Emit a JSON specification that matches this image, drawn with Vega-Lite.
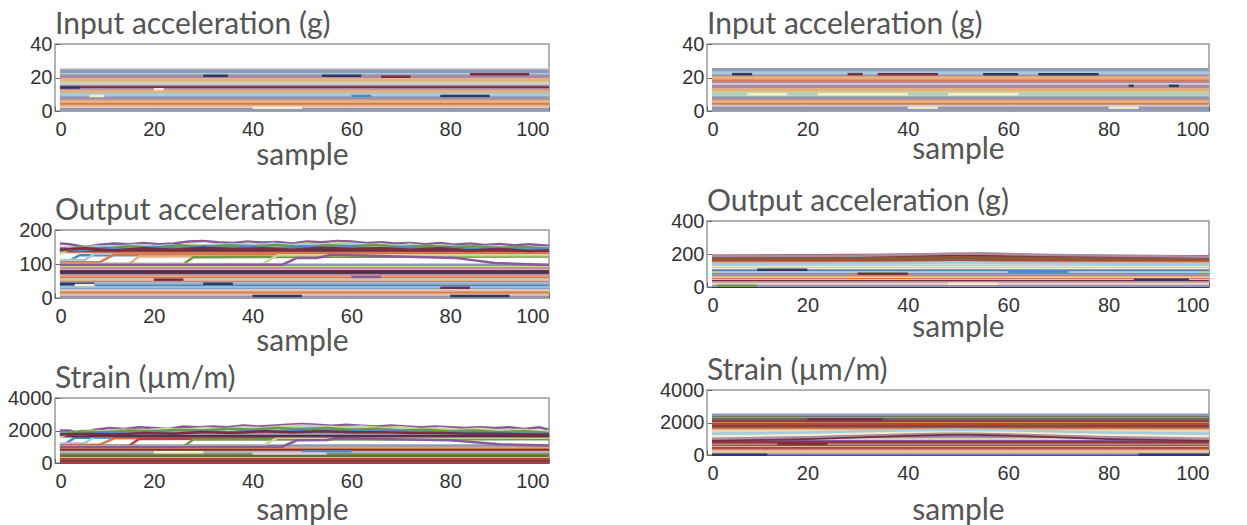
{
"$schema": "https://vega.github.io/schema/vega-lite/v6.json",
"background": "white",
"padding": {"left": 6, "top": 9, "right": 5, "bottom": 0},
"spacing": 103,
"hconcat": [
 {"bounds": "flush", "spacing": 119, "vconcat": [
  {"width": 494, "height": 67, "title": "Input acceleration (g)", "data": {"name": "p1"},
   "mark": {"type": "line"},
   "encoding": {
    "x": {"field": "x", "type": "quantitative", "scale": {"domain": [0, 100], "nice": false}, "axis": {"values": [0,20,40,60,80,100], "title": "sample", "titlePadding": 1}},
    "y": {"field": "y", "type": "quantitative", "scale": {"domain": [0, 40], "nice": false}, "axis": {"values": [0,20,40], "title": null}},
    "color": {"field": "c", "type": "nominal", "legend": null, "scale": {"domain": ["a","b","c","d","e","f","g","h","i","j","k","l","m","n","o","p"], "range": ["#E6B07E","#A98BA3","#A3CCDD","#8D9CB6","#7B2E3F","#C8D59B","#2E3A62","#D9774B","#D3CEDA","#B5473F","#6E9A45","#F4EBD0","#8A5A9A","#4A8CC2","#8C5A3C","#6D6B48"]}},
    "detail": {"field": "s"}}},
  {"bounds": "flush", "spacing": 100, "vconcat": [
   {"width": 494, "height": 68, "title": "Output acceleration (g)", "data": {"name": "p2"},
    "mark": {"type": "line"},
    "encoding": {
     "x": {"field": "x", "type": "quantitative", "scale": {"domain": [0, 100], "nice": false}, "axis": {"values": [0,20,40,60,80,100], "title": "sample", "titlePadding": 0}},
     "y": {"field": "y", "type": "quantitative", "scale": {"domain": [0, 200], "nice": false}, "axis": {"values": [0,100,200], "title": null}},
     "color": {"field": "c", "type": "nominal", "legend": null, "scale": {"domain": ["a","b","c","d","e","f","g","h","i","j","k","l","m","n","o","p"], "range": ["#E6B07E","#A98BA3","#A3CCDD","#8D9CB6","#7B2E3F","#C8D59B","#2E3A62","#D9774B","#D3CEDA","#B5473F","#6E9A45","#F4EBD0","#8A5A9A","#4A8CC2","#8C5A3C","#6D6B48"]}},
     "detail": {"field": "s"}}},
   {"width": 494, "height": 65, "title": "Strain (µm/m)", "data": {"name": "p3"},
    "mark": {"type": "line"},
    "encoding": {
     "x": {"field": "x", "type": "quantitative", "scale": {"domain": [0, 100], "nice": false}, "axis": {"values": [0,20,40,60,80,100], "title": "sample", "titlePadding": 4}},
     "y": {"field": "y", "type": "quantitative", "scale": {"domain": [0, 4000], "nice": false}, "axis": {"values": [0,2000,4000], "title": null, "format": "d"}},
     "color": {"field": "c", "type": "nominal", "legend": null, "scale": {"domain": ["a","b","c","d","e","f","g","h","i","j","k","l","m","n","o","p"], "range": ["#E6B07E","#A98BA3","#A3CCDD","#8D9CB6","#7B2E3F","#C8D59B","#2E3A62","#D9774B","#D3CEDA","#B5473F","#6E9A45","#F4EBD0","#8A5A9A","#4A8CC2","#8C5A3C","#6D6B48"]}},
     "detail": {"field": "s"}}}
  ]}
 ]},
 {"bounds": "flush", "spacing": 110, "vconcat": [
  {"width": 502, "height": 67, "title": "Input acceleration (g)", "data": {"name": "p4"},
   "mark": {"type": "line"},
   "encoding": {
    "x": {"field": "x", "type": "quantitative", "scale": {"domain": [0, 100], "nice": false}, "axis": {"values": [0,20,40,60,80,100], "title": "sample", "titlePadding": -5}},
    "y": {"field": "y", "type": "quantitative", "scale": {"domain": [0, 40], "nice": false}, "axis": {"values": [0,20,40], "title": null}},
    "color": {"field": "c", "type": "nominal", "legend": null, "scale": {"domain": ["a","b","c","d","e","f","g","h","i","j","k","l","m","n","o","p"], "range": ["#E6B07E","#A98BA3","#A3CCDD","#8D9CB6","#7B2E3F","#C8D59B","#2E3A62","#D9774B","#D3CEDA","#B5473F","#6E9A45","#F4EBD0","#8A5A9A","#4A8CC2","#8C5A3C","#6D6B48"]}},
    "detail": {"field": "s"}}},
  {"bounds": "flush", "spacing": 103, "vconcat": [
   {"width": 502, "height": 66, "title": "Output acceleration (g)", "data": {"name": "p5"},
    "mark": {"type": "line"},
    "encoding": {
     "x": {"field": "x", "type": "quantitative", "scale": {"domain": [0, 100], "nice": false}, "axis": {"values": [0,20,40,60,80,100], "title": "sample", "titlePadding": -3}},
     "y": {"field": "y", "type": "quantitative", "scale": {"domain": [0, 400], "nice": false}, "axis": {"values": [0,200,400], "title": null}},
     "color": {"field": "c", "type": "nominal", "legend": null, "scale": {"domain": ["a","b","c","d","e","f","g","h","i","j","k","l","m","n","o","p"], "range": ["#E6B07E","#A98BA3","#A3CCDD","#8D9CB6","#7B2E3F","#C8D59B","#2E3A62","#D9774B","#D3CEDA","#B5473F","#6E9A45","#F4EBD0","#8A5A9A","#4A8CC2","#8C5A3C","#6D6B48"]}},
     "detail": {"field": "s"}}},
   {"width": 502, "height": 65, "title": "Strain (µm/m)", "data": {"name": "p6"},
    "mark": {"type": "line"},
    "encoding": {
     "x": {"field": "x", "type": "quantitative", "scale": {"domain": [0, 100], "nice": false}, "axis": {"values": [0,20,40,60,80,100], "title": "sample", "titlePadding": 12}},
     "y": {"field": "y", "type": "quantitative", "scale": {"domain": [0, 4000], "nice": false}, "axis": {"values": [0,2000,4000], "title": null, "format": "d"}},
     "color": {"field": "c", "type": "nominal", "legend": null, "scale": {"domain": ["a","b","c","d","e","f","g","h","i","j","k","l","m","n","o","p"], "range": ["#E6B07E","#A98BA3","#A3CCDD","#8D9CB6","#7B2E3F","#C8D59B","#2E3A62","#D9774B","#D3CEDA","#B5473F","#6E9A45","#F4EBD0","#8A5A9A","#4A8CC2","#8C5A3C","#6D6B48"]}},
     "detail": {"field": "s"}}}
  ]}
 ]}
],
"datasets": {
"p1": [
{"s":1,"x":1,"y":25,"c":"i"},{"s":1,"x":100,"y":25,"c":"i"},
{"s":2,"x":1,"y":24,"c":"d"},{"s":2,"x":100,"y":24,"c":"d"},
{"s":3,"x":1,"y":23,"c":"d"},{"s":3,"x":100,"y":23,"c":"d"},
{"s":4,"x":1,"y":22,"c":"c"},{"s":4,"x":100,"y":22,"c":"c"},
{"s":5,"x":1,"y":21,"c":"b"},{"s":5,"x":100,"y":21,"c":"b"},
{"s":6,"x":1,"y":20,"c":"b"},{"s":6,"x":100,"y":20,"c":"b"},
{"s":7,"x":1,"y":19,"c":"a"},{"s":7,"x":100,"y":19,"c":"a"},
{"s":8,"x":1,"y":18,"c":"a"},{"s":8,"x":100,"y":18,"c":"a"},
{"s":9,"x":1,"y":17,"c":"f"},{"s":9,"x":100,"y":17,"c":"f"},
{"s":10,"x":1,"y":16,"c":"i"},{"s":10,"x":100,"y":16,"c":"i"},
{"s":11,"x":1,"y":15,"c":"b"},{"s":11,"x":100,"y":15,"c":"b"},
{"s":12,"x":1,"y":14,"c":"e"},{"s":12,"x":100,"y":14,"c":"e"},
{"s":13,"x":1,"y":13,"c":"b"},{"s":13,"x":100,"y":13,"c":"b"},
{"s":14,"x":1,"y":12,"c":"a"},{"s":14,"x":100,"y":12,"c":"a"},
{"s":15,"x":1,"y":11,"c":"a"},{"s":15,"x":100,"y":11,"c":"a"},
{"s":16,"x":1,"y":10,"c":"c"},{"s":16,"x":100,"y":10,"c":"c"},
{"s":17,"x":1,"y":9,"c":"c"},{"s":17,"x":100,"y":9,"c":"c"},
{"s":18,"x":1,"y":8,"c":"d"},{"s":18,"x":100,"y":8,"c":"d"},
{"s":19,"x":1,"y":7,"c":"b"},{"s":19,"x":100,"y":7,"c":"b"},
{"s":20,"x":1,"y":6,"c":"a"},{"s":20,"x":100,"y":6,"c":"a"},
{"s":21,"x":1,"y":5,"c":"a"},{"s":21,"x":100,"y":5,"c":"a"},
{"s":22,"x":1,"y":4,"c":"h"},{"s":22,"x":100,"y":4,"c":"h"},
{"s":23,"x":1,"y":3,"c":"a"},{"s":23,"x":100,"y":3,"c":"a"},
{"s":24,"x":1,"y":2,"c":"i"},{"s":24,"x":100,"y":2,"c":"i"},
{"s":25,"x":1,"y":1,"c":"b"},{"s":25,"x":100,"y":1,"c":"b"},
{"s":26,"x":1,"y":0.4,"c":"d"},{"s":26,"x":100,"y":0.4,"c":"d"},
{"s":27,"x":30,"y":21,"c":"g"},{"s":27,"x":35,"y":21,"c":"g"},
{"s":28,"x":54,"y":21,"c":"g"},{"s":28,"x":62,"y":21,"c":"g"},
{"s":29,"x":66,"y":20.5,"c":"e"},{"s":29,"x":72,"y":20.5,"c":"e"},
{"s":30,"x":1,"y":14,"c":"g"},{"s":30,"x":5,"y":14,"c":"g"},
{"s":31,"x":60,"y":9,"c":"n"},{"s":31,"x":64,"y":9,"c":"n"},
{"s":32,"x":78,"y":9,"c":"g"},{"s":32,"x":88,"y":9,"c":"g"},
{"s":33,"x":84,"y":22,"c":"e"},{"s":33,"x":96,"y":22,"c":"e"},
{"s":34,"x":7,"y":9,"c":"l"},{"s":34,"x":10,"y":9,"c":"l"},
{"s":35,"x":20,"y":13,"c":"l"},{"s":35,"x":22,"y":13,"c":"l"},
{"s":36,"x":40,"y":2,"c":"l"},{"s":36,"x":50,"y":2,"c":"l"}
],
"p4": [
{"s":1,"x":1,"y":25,"c":"d"},{"s":1,"x":100,"y":25,"c":"d"},
{"s":2,"x":1,"y":24,"c":"d"},{"s":2,"x":100,"y":24,"c":"d"},
{"s":3,"x":1,"y":23,"c":"c"},{"s":3,"x":100,"y":23,"c":"c"},
{"s":4,"x":1,"y":22,"c":"c"},{"s":4,"x":100,"y":22,"c":"c"},
{"s":5,"x":1,"y":21,"c":"b"},{"s":5,"x":100,"y":21,"c":"b"},
{"s":6,"x":1,"y":20,"c":"a"},{"s":6,"x":100,"y":20,"c":"a"},
{"s":7,"x":1,"y":19,"c":"a"},{"s":7,"x":100,"y":19,"c":"a"},
{"s":8,"x":1,"y":18,"c":"h"},{"s":8,"x":100,"y":18,"c":"h"},
{"s":9,"x":1,"y":17,"c":"b"},{"s":9,"x":100,"y":17,"c":"b"},
{"s":10,"x":1,"y":16,"c":"i"},{"s":10,"x":100,"y":16,"c":"i"},
{"s":11,"x":1,"y":15,"c":"b"},{"s":11,"x":100,"y":15,"c":"b"},
{"s":12,"x":1,"y":14,"c":"b"},{"s":12,"x":100,"y":14,"c":"b"},
{"s":13,"x":1,"y":13,"c":"a"},{"s":13,"x":100,"y":13,"c":"a"},
{"s":14,"x":1,"y":12,"c":"a"},{"s":14,"x":100,"y":12,"c":"a"},
{"s":15,"x":1,"y":11,"c":"f"},{"s":15,"x":100,"y":11,"c":"f"},
{"s":16,"x":1,"y":10,"c":"c"},{"s":16,"x":100,"y":10,"c":"c"},
{"s":17,"x":1,"y":9,"c":"f"},{"s":17,"x":100,"y":9,"c":"f"},
{"s":18,"x":1,"y":8,"c":"d"},{"s":18,"x":100,"y":8,"c":"d"},
{"s":19,"x":1,"y":7,"c":"b"},{"s":19,"x":100,"y":7,"c":"b"},
{"s":20,"x":1,"y":6,"c":"a"},{"s":20,"x":100,"y":6,"c":"a"},
{"s":21,"x":1,"y":5,"c":"a"},{"s":21,"x":100,"y":5,"c":"a"},
{"s":22,"x":1,"y":4,"c":"h"},{"s":22,"x":100,"y":4,"c":"h"},
{"s":23,"x":1,"y":3,"c":"i"},{"s":23,"x":100,"y":3,"c":"i"},
{"s":24,"x":1,"y":2,"c":"d"},{"s":24,"x":100,"y":2,"c":"d"},
{"s":25,"x":1,"y":1,"c":"b"},{"s":25,"x":100,"y":1,"c":"b"},
{"s":26,"x":1,"y":0.4,"c":"d"},{"s":26,"x":100,"y":0.4,"c":"d"},
{"s":27,"x":5,"y":22,"c":"g"},{"s":27,"x":9,"y":22,"c":"g"},
{"s":28,"x":28,"y":22,"c":"e"},{"s":28,"x":31,"y":22,"c":"e"},
{"s":29,"x":34,"y":22,"c":"e"},{"s":29,"x":46,"y":22,"c":"e"},
{"s":30,"x":55,"y":22,"c":"g"},{"s":30,"x":62,"y":22,"c":"g"},
{"s":31,"x":66,"y":22,"c":"g"},{"s":31,"x":78,"y":22,"c":"g"},
{"s":32,"x":84,"y":15,"c":"g"},{"s":32,"x":85,"y":15,"c":"g"},
{"s":33,"x":92,"y":15,"c":"g"},{"s":33,"x":94,"y":15,"c":"g"},
{"s":34,"x":8,"y":10,"c":"l"},{"s":34,"x":16,"y":10,"c":"l"},
{"s":35,"x":22,"y":10,"c":"l"},{"s":35,"x":40,"y":10,"c":"l"},
{"s":36,"x":48,"y":10,"c":"l"},{"s":36,"x":62,"y":10,"c":"l"},
{"s":37,"x":40,"y":2,"c":"l"},{"s":37,"x":46,"y":2,"c":"l"},
{"s":38,"x":80,"y":2,"c":"l"},{"s":38,"x":86,"y":2,"c":"l"}
],
"p2": [
{"s":1,"x":1,"y":2,"c":"d"},{"s":1,"x":100,"y":2,"c":"d"},
{"s":2,"x":1,"y":6,"c":"b"},{"s":2,"x":100,"y":6,"c":"b"},
{"s":3,"x":1,"y":10,"c":"i"},{"s":3,"x":100,"y":10,"c":"i"},
{"s":4,"x":1,"y":14,"c":"a"},{"s":4,"x":100,"y":14,"c":"a"},
{"s":5,"x":1,"y":18,"c":"h"},{"s":5,"x":100,"y":18,"c":"h"},
{"s":6,"x":1,"y":22,"c":"a"},{"s":6,"x":100,"y":22,"c":"a"},
{"s":7,"x":1,"y":26,"c":"i"},{"s":7,"x":100,"y":26,"c":"i"},
{"s":8,"x":1,"y":30,"c":"d"},{"s":8,"x":100,"y":30,"c":"d"},
{"s":9,"x":1,"y":34,"c":"c"},{"s":9,"x":100,"y":34,"c":"c"},
{"s":10,"x":1,"y":38,"c":"n"},{"s":10,"x":100,"y":38,"c":"n"},
{"s":11,"x":1,"y":42,"c":"d"},{"s":11,"x":100,"y":42,"c":"d"},
{"s":12,"x":1,"y":46,"c":"c"},{"s":12,"x":100,"y":46,"c":"c"},
{"s":13,"x":1,"y":50,"c":"b"},{"s":13,"x":100,"y":50,"c":"b"},
{"s":14,"x":1,"y":54,"c":"a"},{"s":14,"x":100,"y":54,"c":"a"},
{"s":15,"x":1,"y":58,"c":"i"},{"s":15,"x":100,"y":58,"c":"i"},
{"s":16,"x":1,"y":62,"c":"h"},{"s":16,"x":100,"y":62,"c":"h"},
{"s":17,"x":1,"y":66,"c":"a"},{"s":17,"x":100,"y":66,"c":"a"},
{"s":18,"x":1,"y":70,"c":"b"},{"s":18,"x":100,"y":70,"c":"b"},
{"s":19,"x":1,"y":74,"c":"e"},{"s":19,"x":100,"y":74,"c":"e"},
{"s":20,"x":1,"y":78,"c":"g"},{"s":20,"x":100,"y":78,"c":"g"},
{"s":21,"x":1,"y":82,"c":"e"},{"s":21,"x":100,"y":82,"c":"e"},
{"s":22,"x":1,"y":86,"c":"a"},{"s":22,"x":100,"y":86,"c":"a"},
{"s":23,"x":1,"y":90,"c":"b"},{"s":23,"x":100,"y":90,"c":"b"},
{"s":24,"x":1,"y":94,"c":"f"},{"s":24,"x":100,"y":94,"c":"f"},
{"s":25,"x":1,"y":98,"c":"d"},{"s":25,"x":100,"y":98,"c":"d"},
{"s":26,"x":1,"y":42,"c":"g"},{"s":26,"x":8,"y":42,"c":"g"},
{"s":27,"x":30,"y":42,"c":"g"},{"s":27,"x":36,"y":42,"c":"g"},
{"s":28,"x":20,"y":54,"c":"e"},{"s":28,"x":26,"y":54,"c":"e"},
{"s":29,"x":78,"y":30,"c":"e"},{"s":29,"x":84,"y":30,"c":"e"},
{"s":30,"x":60,"y":62,"c":"m"},{"s":30,"x":66,"y":62,"c":"m"},
{"s":31,"x":40,"y":6,"c":"g"},{"s":31,"x":50,"y":6,"c":"g"},
{"s":32,"x":80,"y":6,"c":"g"},{"s":32,"x":92,"y":6,"c":"g"},
{"s":33,"x":4,"y":38,"c":"l"},{"s":33,"x":8,"y":38,"c":"l"},
{"s":40,"x":1,"y":108,"c":"n"},{"s":40,"x":3,"y":110,"c":"n"},{"s":40,"x":5,"y":126,"c":"n"},{"s":40,"x":100,"y":128,"c":"n"},
{"s":41,"x":1,"y":112,"c":"c"},{"s":41,"x":6,"y":112,"c":"c"},{"s":41,"x":8,"y":130,"c":"c"},{"s":41,"x":100,"y":132,"c":"c"},
{"s":42,"x":1,"y":105,"c":"h"},{"s":42,"x":9,"y":105,"c":"h"},{"s":42,"x":12,"y":128,"c":"h"},{"s":42,"x":100,"y":130,"c":"h"},
{"s":43,"x":1,"y":100,"c":"a"},{"s":43,"x":15,"y":100,"c":"a"},{"s":43,"x":17,"y":122,"c":"a"},{"s":43,"x":100,"y":124,"c":"a"},
{"s":44,"x":1,"y":100,"c":"k"},{"s":44,"x":26,"y":100,"c":"k"},{"s":44,"x":28,"y":120,"c":"k"},{"s":44,"x":100,"y":122,"c":"k"},
{"s":45,"x":1,"y":100,"c":"f"},{"s":45,"x":42,"y":100,"c":"f"},{"s":45,"x":45,"y":126,"c":"f"},{"s":45,"x":100,"y":126,"c":"f"},
{"s":46,"x":1,"y":98,"c":"m"},{"s":46,"x":46,"y":98,"c":"m"},{"s":46,"x":49,"y":118,"c":"m"},{"s":46,"x":53,"y":118,"c":"m"},{"s":46,"x":56,"y":127,"c":"m"},{"s":46,"x":81,"y":118,"c":"m"},{"s":46,"x":89,"y":103,"c":"m"},{"s":46,"x":100,"y":97,"c":"m"},
{"s":48,"x":1,"y":135,"c":"h"},{"s":48,"x":100,"y":135,"c":"h"},
{"s":49,"x":1,"y":140,"c":"e"},{"s":49,"x":100,"y":140,"c":"e"},
{"s":50,"x":1,"y":144,"c":"g"},{"s":50,"x":100,"y":145,"c":"g"},
{"s":51,"x":1,"y":148,"c":"b"},{"s":51,"x":100,"y":148,"c":"b"},
{"s":60,"x":1,"y":160,"c":"m"},{"s":60,"x":3,"y":158,"c":"m"},{"s":60,"x":6,"y":150,"c":"m"},{"s":60,"x":9,"y":157,"c":"m"},{"s":60,"x":12,"y":160,"c":"m"},{"s":60,"x":15,"y":158,"c":"m"},{"s":60,"x":18,"y":162,"c":"m"},{"s":60,"x":21,"y":158,"c":"m"},{"s":60,"x":24,"y":160,"c":"m"},{"s":60,"x":27,"y":166,"c":"m"},{"s":60,"x":30,"y":168,"c":"m"},{"s":60,"x":33,"y":164,"c":"m"},{"s":60,"x":36,"y":162,"c":"m"},{"s":60,"x":39,"y":166,"c":"m"},{"s":60,"x":42,"y":163,"c":"m"},{"s":60,"x":45,"y":165,"c":"m"},{"s":60,"x":48,"y":160,"c":"m"},{"s":60,"x":51,"y":166,"c":"m"},{"s":60,"x":54,"y":164,"c":"m"},{"s":60,"x":57,"y":168,"c":"m"},{"s":60,"x":60,"y":166,"c":"m"},{"s":60,"x":63,"y":162,"c":"m"},{"s":60,"x":66,"y":164,"c":"m"},{"s":60,"x":69,"y":160,"c":"m"},{"s":60,"x":72,"y":162,"c":"m"},{"s":60,"x":75,"y":158,"c":"m"},{"s":60,"x":78,"y":162,"c":"m"},{"s":60,"x":81,"y":157,"c":"m"},{"s":60,"x":84,"y":160,"c":"m"},{"s":60,"x":87,"y":156,"c":"m"},{"s":60,"x":90,"y":159,"c":"m"},{"s":60,"x":93,"y":155,"c":"m"},{"s":60,"x":96,"y":158,"c":"m"},{"s":60,"x":100,"y":154,"c":"m"},
{"s":61,"x":1,"y":130,"c":"f"},{"s":61,"x":3,"y":145,"c":"f"},{"s":61,"x":6,"y":150,"c":"f"},{"s":61,"x":9,"y":148,"c":"f"},{"s":61,"x":12,"y":152,"c":"f"},{"s":61,"x":15,"y":150,"c":"f"},{"s":61,"x":18,"y":155,"c":"f"},{"s":61,"x":21,"y":152,"c":"f"},{"s":61,"x":24,"y":150,"c":"f"},{"s":61,"x":27,"y":158,"c":"f"},{"s":61,"x":30,"y":155,"c":"f"},{"s":61,"x":33,"y":158,"c":"f"},{"s":61,"x":36,"y":154,"c":"f"},{"s":61,"x":39,"y":160,"c":"f"},{"s":61,"x":42,"y":156,"c":"f"},{"s":61,"x":45,"y":158,"c":"f"},{"s":61,"x":48,"y":155,"c":"f"},{"s":61,"x":51,"y":160,"c":"f"},{"s":61,"x":54,"y":156,"c":"f"},{"s":61,"x":57,"y":162,"c":"f"},{"s":61,"x":60,"y":158,"c":"f"},{"s":61,"x":63,"y":155,"c":"f"},{"s":61,"x":66,"y":158,"c":"f"},{"s":61,"x":69,"y":154,"c":"f"},{"s":61,"x":72,"y":157,"c":"f"},{"s":61,"x":75,"y":152,"c":"f"},{"s":61,"x":78,"y":155,"c":"f"},{"s":61,"x":81,"y":150,"c":"f"},{"s":61,"x":84,"y":154,"c":"f"},{"s":61,"x":87,"y":150,"c":"f"},{"s":61,"x":90,"y":152,"c":"f"},{"s":61,"x":93,"y":148,"c":"f"},{"s":61,"x":96,"y":150,"c":"f"},{"s":61,"x":100,"y":146,"c":"f"},
{"s":62,"x":1,"y":140,"c":"c"},{"s":62,"x":4,"y":148,"c":"c"},{"s":62,"x":8,"y":152,"c":"c"},{"s":62,"x":12,"y":150,"c":"c"},{"s":62,"x":16,"y":156,"c":"c"},{"s":62,"x":20,"y":152,"c":"c"},{"s":62,"x":24,"y":155,"c":"c"},{"s":62,"x":28,"y":150,"c":"c"},{"s":62,"x":32,"y":156,"c":"c"},{"s":62,"x":36,"y":158,"c":"c"},{"s":62,"x":40,"y":154,"c":"c"},{"s":62,"x":44,"y":160,"c":"c"},{"s":62,"x":48,"y":156,"c":"c"},{"s":62,"x":52,"y":158,"c":"c"},{"s":62,"x":56,"y":155,"c":"c"},{"s":62,"x":60,"y":160,"c":"c"},{"s":62,"x":64,"y":156,"c":"c"},{"s":62,"x":68,"y":152,"c":"c"},{"s":62,"x":72,"y":156,"c":"c"},{"s":62,"x":76,"y":150,"c":"c"},{"s":62,"x":80,"y":154,"c":"c"},{"s":62,"x":84,"y":148,"c":"c"},{"s":62,"x":88,"y":152,"c":"c"},{"s":62,"x":92,"y":148,"c":"c"},{"s":62,"x":96,"y":150,"c":"c"},{"s":62,"x":100,"y":148,"c":"c"},
{"s":63,"x":1,"y":138,"c":"k"},{"s":63,"x":5,"y":150,"c":"k"},{"s":63,"x":10,"y":145,"c":"k"},{"s":63,"x":15,"y":152,"c":"k"},{"s":63,"x":20,"y":148,"c":"k"},{"s":63,"x":25,"y":155,"c":"k"},{"s":63,"x":30,"y":150,"c":"k"},{"s":63,"x":35,"y":155,"c":"k"},{"s":63,"x":40,"y":152,"c":"k"},{"s":63,"x":45,"y":156,"c":"k"},{"s":63,"x":50,"y":150,"c":"k"},{"s":63,"x":55,"y":155,"c":"k"},{"s":63,"x":60,"y":152,"c":"k"},{"s":63,"x":65,"y":156,"c":"k"},{"s":63,"x":70,"y":150,"c":"k"},{"s":63,"x":75,"y":154,"c":"k"},{"s":63,"x":80,"y":150,"c":"k"},{"s":63,"x":85,"y":152,"c":"k"},{"s":63,"x":90,"y":148,"c":"k"},{"s":63,"x":95,"y":150,"c":"k"},{"s":63,"x":100,"y":145,"c":"k"},
{"s":64,"x":1,"y":145,"c":"n"},{"s":64,"x":5,"y":140,"c":"n"},{"s":64,"x":10,"y":148,"c":"n"},{"s":64,"x":15,"y":144,"c":"n"},{"s":64,"x":20,"y":150,"c":"n"},{"s":64,"x":25,"y":146,"c":"n"},{"s":64,"x":30,"y":152,"c":"n"},{"s":64,"x":35,"y":148,"c":"n"},{"s":64,"x":40,"y":150,"c":"n"},{"s":64,"x":45,"y":146,"c":"n"},{"s":64,"x":50,"y":152,"c":"n"},{"s":64,"x":55,"y":148,"c":"n"},{"s":64,"x":60,"y":150,"c":"n"},{"s":64,"x":65,"y":146,"c":"n"},{"s":64,"x":70,"y":150,"c":"n"},{"s":64,"x":75,"y":146,"c":"n"},{"s":64,"x":80,"y":148,"c":"n"},{"s":64,"x":85,"y":144,"c":"n"},{"s":64,"x":90,"y":146,"c":"n"},{"s":64,"x":95,"y":142,"c":"n"},{"s":64,"x":100,"y":144,"c":"n"},
{"s":65,"x":1,"y":142,"c":"e"},{"s":65,"x":6,"y":146,"c":"e"},{"s":65,"x":12,"y":140,"c":"e"},{"s":65,"x":18,"y":146,"c":"e"},{"s":65,"x":24,"y":142,"c":"e"},{"s":65,"x":30,"y":148,"c":"e"},{"s":65,"x":36,"y":144,"c":"e"},{"s":65,"x":42,"y":146,"c":"e"},{"s":65,"x":48,"y":142,"c":"e"},{"s":65,"x":54,"y":148,"c":"e"},{"s":65,"x":60,"y":144,"c":"e"},{"s":65,"x":66,"y":146,"c":"e"},{"s":65,"x":72,"y":142,"c":"e"},{"s":65,"x":78,"y":146,"c":"e"},{"s":65,"x":84,"y":140,"c":"e"},{"s":65,"x":90,"y":144,"c":"e"},{"s":65,"x":96,"y":138,"c":"e"},{"s":65,"x":100,"y":140,"c":"e"}
],
"p3": [
{"s":1,"x":1,"y":30,"c":"e"},{"s":1,"x":100,"y":30,"c":"e"},
{"s":2,"x":1,"y":100,"c":"j"},{"s":2,"x":100,"y":100,"c":"j"},
{"s":3,"x":1,"y":170,"c":"e"},{"s":3,"x":100,"y":170,"c":"e"},
{"s":4,"x":1,"y":240,"c":"o"},{"s":4,"x":100,"y":240,"c":"o"},
{"s":5,"x":1,"y":310,"c":"j"},{"s":5,"x":100,"y":310,"c":"j"},
{"s":6,"x":1,"y":380,"c":"a"},{"s":6,"x":100,"y":380,"c":"a"},
{"s":7,"x":1,"y":450,"c":"p"},{"s":7,"x":100,"y":450,"c":"p"},
{"s":8,"x":1,"y":520,"c":"o"},{"s":8,"x":100,"y":520,"c":"o"},
{"s":9,"x":1,"y":590,"c":"k"},{"s":9,"x":100,"y":590,"c":"k"},
{"s":10,"x":1,"y":660,"c":"d"},{"s":10,"x":100,"y":660,"c":"d"},
{"s":11,"x":1,"y":730,"c":"i"},{"s":11,"x":100,"y":730,"c":"i"},
{"s":12,"x":1,"y":800,"c":"o"},{"s":12,"x":100,"y":800,"c":"o"},
{"s":13,"x":1,"y":870,"c":"e"},{"s":13,"x":100,"y":870,"c":"e"},
{"s":14,"x":1,"y":940,"c":"h"},{"s":14,"x":100,"y":940,"c":"h"},
{"s":15,"x":1,"y":1010,"c":"a"},{"s":15,"x":100,"y":1010,"c":"a"},
{"s":16,"x":1,"y":1080,"c":"d"},{"s":16,"x":100,"y":1080,"c":"d"},
{"s":17,"x":20,"y":660,"c":"l"},{"s":17,"x":30,"y":660,"c":"l"},
{"s":18,"x":50,"y":730,"c":"n"},{"s":18,"x":60,"y":730,"c":"n"},
{"s":19,"x":40,"y":590,"c":"i"},{"s":19,"x":55,"y":590,"c":"i"},
{"s":40,"x":1,"y":1150,"c":"n"},{"s":40,"x":2,"y":1160,"c":"n"},{"s":40,"x":4,"y":1550,"c":"n"},{"s":40,"x":100,"y":1560,"c":"n"},
{"s":41,"x":1,"y":1200,"c":"c"},{"s":41,"x":6,"y":1220,"c":"c"},{"s":41,"x":8,"y":1600,"c":"c"},{"s":41,"x":100,"y":1620,"c":"c"},
{"s":42,"x":1,"y":1100,"c":"h"},{"s":42,"x":9,"y":1120,"c":"h"},{"s":42,"x":12,"y":1520,"c":"h"},{"s":42,"x":100,"y":1540,"c":"h"},
{"s":43,"x":1,"y":1050,"c":"j"},{"s":43,"x":15,"y":1060,"c":"j"},{"s":43,"x":17,"y":1480,"c":"j"},{"s":43,"x":100,"y":1500,"c":"j"},
{"s":44,"x":1,"y":1000,"c":"k"},{"s":44,"x":26,"y":1020,"c":"k"},{"s":44,"x":28,"y":1450,"c":"k"},{"s":44,"x":100,"y":1460,"c":"k"},
{"s":45,"x":1,"y":1020,"c":"f"},{"s":45,"x":42,"y":1040,"c":"f"},{"s":45,"x":45,"y":1550,"c":"f"},{"s":45,"x":100,"y":1560,"c":"f"},
{"s":46,"x":1,"y":980,"c":"m"},{"s":46,"x":46,"y":1000,"c":"m"},{"s":46,"x":49,"y":1400,"c":"m"},{"s":46,"x":55,"y":1420,"c":"m"},{"s":46,"x":57,"y":1520,"c":"m"},{"s":46,"x":80,"y":1400,"c":"m"},{"s":46,"x":90,"y":1150,"c":"m"},{"s":46,"x":100,"y":1080,"c":"m"},
{"s":50,"x":1,"y":1650,"c":"e"},{"s":50,"x":100,"y":1650,"c":"e"},
{"s":51,"x":1,"y":1720,"c":"g"},{"s":51,"x":100,"y":1720,"c":"g"},
{"s":52,"x":1,"y":1800,"c":"b"},{"s":52,"x":100,"y":1800,"c":"b"},
{"s":53,"x":1,"y":1870,"c":"d"},{"s":53,"x":100,"y":1870,"c":"d"},
{"s":60,"x":1,"y":2000,"c":"m"},{"s":60,"x":3,"y":2000,"c":"m"},{"s":60,"x":5,"y":1800,"c":"m"},{"s":60,"x":8,"y":2050,"c":"m"},{"s":60,"x":11,"y":2150,"c":"m"},{"s":60,"x":14,"y":2100,"c":"m"},{"s":60,"x":17,"y":2200,"c":"m"},{"s":60,"x":20,"y":2150,"c":"m"},{"s":60,"x":23,"y":2100,"c":"m"},{"s":60,"x":26,"y":2250,"c":"m"},{"s":60,"x":29,"y":2200,"c":"m"},{"s":60,"x":32,"y":2250,"c":"m"},{"s":60,"x":35,"y":2200,"c":"m"},{"s":60,"x":38,"y":2300,"c":"m"},{"s":60,"x":41,"y":2250,"c":"m"},{"s":60,"x":44,"y":2300,"c":"m"},{"s":60,"x":47,"y":2350,"c":"m"},{"s":60,"x":50,"y":2400,"c":"m"},{"s":60,"x":53,"y":2350,"c":"m"},{"s":60,"x":56,"y":2300,"c":"m"},{"s":60,"x":59,"y":2350,"c":"m"},{"s":60,"x":62,"y":2300,"c":"m"},{"s":60,"x":65,"y":2250,"c":"m"},{"s":60,"x":68,"y":2300,"c":"m"},{"s":60,"x":71,"y":2250,"c":"m"},{"s":60,"x":74,"y":2200,"c":"m"},{"s":60,"x":77,"y":2250,"c":"m"},{"s":60,"x":80,"y":2200,"c":"m"},{"s":60,"x":83,"y":2150,"c":"m"},{"s":60,"x":86,"y":2200,"c":"m"},{"s":60,"x":89,"y":2150,"c":"m"},{"s":60,"x":92,"y":2200,"c":"m"},{"s":60,"x":95,"y":2100,"c":"m"},{"s":60,"x":98,"y":2200,"c":"m"},{"s":60,"x":100,"y":2050,"c":"m"},
{"s":61,"x":1,"y":1600,"c":"f"},{"s":61,"x":3,"y":1850,"c":"f"},{"s":61,"x":6,"y":2000,"c":"f"},{"s":61,"x":10,"y":1950,"c":"f"},{"s":61,"x":14,"y":2050,"c":"f"},{"s":61,"x":18,"y":2000,"c":"f"},{"s":61,"x":22,"y":2100,"c":"f"},{"s":61,"x":26,"y":2050,"c":"f"},{"s":61,"x":30,"y":2150,"c":"f"},{"s":61,"x":34,"y":2100,"c":"f"},{"s":61,"x":38,"y":2200,"c":"f"},{"s":61,"x":42,"y":2150,"c":"f"},{"s":61,"x":46,"y":2250,"c":"f"},{"s":61,"x":50,"y":2300,"c":"f"},{"s":61,"x":54,"y":2250,"c":"f"},{"s":61,"x":58,"y":2200,"c":"f"},{"s":61,"x":62,"y":2250,"c":"f"},{"s":61,"x":66,"y":2150,"c":"f"},{"s":61,"x":70,"y":2200,"c":"f"},{"s":61,"x":74,"y":2100,"c":"f"},{"s":61,"x":78,"y":2150,"c":"f"},{"s":61,"x":82,"y":2050,"c":"f"},{"s":61,"x":86,"y":2100,"c":"f"},{"s":61,"x":90,"y":2000,"c":"f"},{"s":61,"x":94,"y":2050,"c":"f"},{"s":61,"x":100,"y":1950,"c":"f"},
{"s":62,"x":1,"y":1700,"c":"c"},{"s":62,"x":4,"y":1900,"c":"c"},{"s":62,"x":8,"y":1850,"c":"c"},{"s":62,"x":12,"y":1950,"c":"c"},{"s":62,"x":16,"y":1900,"c":"c"},{"s":62,"x":20,"y":2000,"c":"c"},{"s":62,"x":24,"y":1950,"c":"c"},{"s":62,"x":28,"y":2050,"c":"c"},{"s":62,"x":32,"y":2000,"c":"c"},{"s":62,"x":36,"y":2100,"c":"c"},{"s":62,"x":40,"y":2050,"c":"c"},{"s":62,"x":44,"y":2150,"c":"c"},{"s":62,"x":48,"y":2100,"c":"c"},{"s":62,"x":52,"y":2200,"c":"c"},{"s":62,"x":56,"y":2100,"c":"c"},{"s":62,"x":60,"y":2150,"c":"c"},{"s":62,"x":64,"y":2050,"c":"c"},{"s":62,"x":68,"y":2100,"c":"c"},{"s":62,"x":72,"y":2000,"c":"c"},{"s":62,"x":76,"y":2050,"c":"c"},{"s":62,"x":80,"y":1950,"c":"c"},{"s":62,"x":84,"y":2000,"c":"c"},{"s":62,"x":88,"y":1900,"c":"c"},{"s":62,"x":92,"y":1950,"c":"c"},{"s":62,"x":96,"y":1900,"c":"c"},{"s":62,"x":100,"y":1850,"c":"c"},
{"s":63,"x":1,"y":1750,"c":"k"},{"s":63,"x":5,"y":1950,"c":"k"},{"s":63,"x":10,"y":1900,"c":"k"},{"s":63,"x":15,"y":2000,"c":"k"},{"s":63,"x":20,"y":1950,"c":"k"},{"s":63,"x":25,"y":2050,"c":"k"},{"s":63,"x":30,"y":2000,"c":"k"},{"s":63,"x":35,"y":2100,"c":"k"},{"s":63,"x":40,"y":2050,"c":"k"},{"s":63,"x":45,"y":2150,"c":"k"},{"s":63,"x":50,"y":2100,"c":"k"},{"s":63,"x":55,"y":2150,"c":"k"},{"s":63,"x":60,"y":2050,"c":"k"},{"s":63,"x":65,"y":2100,"c":"k"},{"s":63,"x":70,"y":2000,"c":"k"},{"s":63,"x":75,"y":2050,"c":"k"},{"s":63,"x":80,"y":1950,"c":"k"},{"s":63,"x":85,"y":2000,"c":"k"},{"s":63,"x":90,"y":1900,"c":"k"},{"s":63,"x":95,"y":1950,"c":"k"},{"s":63,"x":100,"y":1850,"c":"k"},
{"s":64,"x":1,"y":1800,"c":"n"},{"s":64,"x":5,"y":1750,"c":"n"},{"s":64,"x":10,"y":1850,"c":"n"},{"s":64,"x":15,"y":1800,"c":"n"},{"s":64,"x":20,"y":1900,"c":"n"},{"s":64,"x":25,"y":1850,"c":"n"},{"s":64,"x":30,"y":1950,"c":"n"},{"s":64,"x":35,"y":1900,"c":"n"},{"s":64,"x":40,"y":2000,"c":"n"},{"s":64,"x":45,"y":1950,"c":"n"},{"s":64,"x":50,"y":2050,"c":"n"},{"s":64,"x":55,"y":2000,"c":"n"},{"s":64,"x":60,"y":2000,"c":"n"},{"s":64,"x":65,"y":1950,"c":"n"},{"s":64,"x":70,"y":1950,"c":"n"},{"s":64,"x":75,"y":1900,"c":"n"},{"s":64,"x":80,"y":1900,"c":"n"},{"s":64,"x":85,"y":1850,"c":"n"},{"s":64,"x":90,"y":1850,"c":"n"},{"s":64,"x":95,"y":1800,"c":"n"},{"s":64,"x":100,"y":1800,"c":"n"},
{"s":65,"x":1,"y":1750,"c":"e"},{"s":65,"x":6,"y":1800,"c":"e"},{"s":65,"x":12,"y":1750,"c":"e"},{"s":65,"x":18,"y":1850,"c":"e"},{"s":65,"x":24,"y":1800,"c":"e"},{"s":65,"x":30,"y":1900,"c":"e"},{"s":65,"x":36,"y":1850,"c":"e"},{"s":65,"x":42,"y":1950,"c":"e"},{"s":65,"x":48,"y":1900,"c":"e"},{"s":65,"x":54,"y":1950,"c":"e"},{"s":65,"x":60,"y":1900,"c":"e"},{"s":65,"x":66,"y":1900,"c":"e"},{"s":65,"x":72,"y":1850,"c":"e"},{"s":65,"x":78,"y":1850,"c":"e"},{"s":65,"x":84,"y":1800,"c":"e"},{"s":65,"x":90,"y":1800,"c":"e"},{"s":65,"x":96,"y":1750,"c":"e"},{"s":65,"x":100,"y":1750,"c":"e"}
],
"p5": [
{"s":1,"x":1,"y":2,"c":"g"},{"s":1,"x":100,"y":2,"c":"g"},
{"s":2,"x":1,"y":8,"c":"d"},{"s":2,"x":100,"y":8,"c":"d"},
{"s":3,"x":1,"y":14,"c":"b"},{"s":3,"x":100,"y":14,"c":"b"},
{"s":4,"x":1,"y":20,"c":"i"},{"s":4,"x":100,"y":20,"c":"i"},
{"s":5,"x":1,"y":26,"c":"i"},{"s":5,"x":100,"y":26,"c":"i"},
{"s":6,"x":1,"y":32,"c":"a"},{"s":6,"x":100,"y":32,"c":"a"},
{"s":7,"x":1,"y":38,"c":"b"},{"s":7,"x":100,"y":38,"c":"b"},
{"s":8,"x":1,"y":44,"c":"e"},{"s":8,"x":100,"y":44,"c":"e"},
{"s":9,"x":1,"y":50,"c":"f"},{"s":9,"x":100,"y":50,"c":"f"},
{"s":10,"x":1,"y":56,"c":"h"},{"s":10,"x":100,"y":56,"c":"h"},
{"s":11,"x":1,"y":62,"c":"i"},{"s":11,"x":100,"y":62,"c":"i"},
{"s":12,"x":1,"y":68,"c":"a"},{"s":12,"x":100,"y":68,"c":"a"},
{"s":13,"x":1,"y":74,"c":"d"},{"s":13,"x":100,"y":74,"c":"d"},
{"s":14,"x":1,"y":80,"c":"b"},{"s":14,"x":100,"y":80,"c":"b"},
{"s":15,"x":1,"y":86,"c":"h"},{"s":15,"x":100,"y":86,"c":"h"},
{"s":16,"x":1,"y":92,"c":"c"},{"s":16,"x":100,"y":92,"c":"c"},
{"s":17,"x":1,"y":98,"c":"a"},{"s":17,"x":100,"y":98,"c":"a"},
{"s":18,"x":1,"y":104,"c":"n"},{"s":18,"x":100,"y":104,"c":"n"},
{"s":19,"x":1,"y":110,"c":"d"},{"s":19,"x":100,"y":110,"c":"d"},
{"s":20,"x":1,"y":116,"c":"l"},{"s":20,"x":100,"y":116,"c":"l"},
{"s":21,"x":1,"y":122,"c":"c"},{"s":21,"x":100,"y":122,"c":"c"},
{"s":22,"x":1,"y":128,"c":"l"},{"s":22,"x":100,"y":128,"c":"l"},
{"s":23,"x":1,"y":134,"c":"f"},{"s":23,"x":100,"y":134,"c":"f"},
{"s":24,"x":1,"y":140,"c":"i"},{"s":24,"x":100,"y":140,"c":"i"},
{"s":25,"x":1,"y":146,"c":"l"},{"s":25,"x":100,"y":146,"c":"l"},
{"s":26,"x":1,"y":152,"c":"a"},{"s":26,"x":100,"y":152,"c":"a"},
{"s":27,"x":1,"y":158,"c":"h"},{"s":27,"x":100,"y":158,"c":"h"},
{"s":28,"x":1,"y":164,"c":"j"},{"s":28,"x":100,"y":164,"c":"j"},
{"s":29,"x":1,"y":170,"c":"o"},{"s":29,"x":100,"y":170,"c":"o"},
{"s":40,"x":1,"y":190,"c":"j"},{"s":40,"x":20,"y":192,"c":"j"},{"s":40,"x":40,"y":196,"c":"j"},{"s":40,"x":50,"y":200,"c":"j"},{"s":40,"x":60,"y":196,"c":"j"},{"s":40,"x":80,"y":188,"c":"j"},{"s":40,"x":100,"y":186,"c":"j"},
{"s":41,"x":1,"y":184,"c":"h"},{"s":41,"x":20,"y":186,"c":"h"},{"s":41,"x":40,"y":190,"c":"h"},{"s":41,"x":50,"y":194,"c":"h"},{"s":41,"x":60,"y":190,"c":"h"},{"s":41,"x":80,"y":182,"c":"h"},{"s":41,"x":100,"y":180,"c":"h"},
{"s":42,"x":1,"y":178,"c":"e"},{"s":42,"x":40,"y":184,"c":"e"},{"s":42,"x":50,"y":188,"c":"e"},{"s":42,"x":60,"y":184,"c":"e"},{"s":42,"x":100,"y":174,"c":"e"},
{"s":43,"x":1,"y":174,"c":"o"},{"s":43,"x":40,"y":178,"c":"o"},{"s":43,"x":50,"y":180,"c":"o"},{"s":43,"x":60,"y":178,"c":"o"},{"s":43,"x":100,"y":168,"c":"o"},
{"s":44,"x":1,"y":188,"c":"b"},{"s":44,"x":30,"y":190,"c":"b"},{"s":44,"x":45,"y":200,"c":"b"},{"s":44,"x":55,"y":204,"c":"b"},{"s":44,"x":65,"y":196,"c":"b"},{"s":44,"x":100,"y":184,"c":"b"},
{"s":45,"x":1,"y":140,"c":"c"},{"s":45,"x":40,"y":146,"c":"c"},{"s":45,"x":50,"y":150,"c":"c"},{"s":45,"x":60,"y":146,"c":"c"},{"s":45,"x":100,"y":138,"c":"c"},
{"s":50,"x":10,"y":104,"c":"g"},{"s":50,"x":20,"y":104,"c":"g"},
{"s":51,"x":30,"y":80,"c":"e"},{"s":51,"x":40,"y":80,"c":"e"},
{"s":52,"x":60,"y":92,"c":"n"},{"s":52,"x":72,"y":92,"c":"n"},
{"s":53,"x":85,"y":44,"c":"g"},{"s":53,"x":96,"y":44,"c":"g"},
{"s":54,"x":48,"y":20,"c":"l"},{"s":54,"x":58,"y":20,"c":"l"},
{"s":55,"x":2,"y":8,"c":"k"},{"s":55,"x":10,"y":8,"c":"k"}
],
"p6": [
{"s":1,"x":1,"y":30,"c":"g"},{"s":1,"x":100,"y":30,"c":"g"},
{"s":2,"x":1,"y":100,"c":"d"},{"s":2,"x":100,"y":100,"c":"d"},
{"s":3,"x":1,"y":175,"c":"a"},{"s":3,"x":100,"y":175,"c":"a"},
{"s":4,"x":1,"y":250,"c":"i"},{"s":4,"x":100,"y":250,"c":"i"},
{"s":5,"x":1,"y":325,"c":"a"},{"s":5,"x":100,"y":325,"c":"a"},
{"s":6,"x":1,"y":400,"c":"h"},{"s":6,"x":100,"y":400,"c":"h"},
{"s":7,"x":1,"y":475,"c":"e"},{"s":7,"x":100,"y":475,"c":"e"},
{"s":8,"x":1,"y":550,"c":"a"},{"s":8,"x":100,"y":550,"c":"a"},
{"s":9,"x":1,"y":625,"c":"o"},{"s":9,"x":100,"y":625,"c":"o"},
{"s":10,"x":1,"y":700,"c":"b"},{"s":10,"x":100,"y":700,"c":"b"},
{"s":11,"x":1,"y":775,"c":"j"},{"s":11,"x":100,"y":775,"c":"j"},
{"s":12,"x":1,"y":850,"c":"e"},{"s":12,"x":100,"y":850,"c":"e"},
{"s":13,"x":1,"y":925,"c":"m"},{"s":13,"x":100,"y":925,"c":"m"},
{"s":14,"x":1,"y":1000,"c":"i"},{"s":14,"x":100,"y":1000,"c":"i"},
{"s":15,"x":1,"y":1075,"c":"f"},{"s":15,"x":100,"y":1075,"c":"f"},
{"s":16,"x":1,"y":1150,"c":"m"},{"s":16,"x":100,"y":1150,"c":"m"},
{"s":17,"x":1,"y":1225,"c":"i"},{"s":17,"x":100,"y":1225,"c":"i"},
{"s":18,"x":1,"y":1300,"c":"f"},{"s":18,"x":100,"y":1300,"c":"f"},
{"s":19,"x":1,"y":1375,"c":"l"},{"s":19,"x":100,"y":1375,"c":"l"},
{"s":20,"x":1,"y":1450,"c":"c"},{"s":20,"x":100,"y":1450,"c":"c"},
{"s":21,"x":1,"y":1525,"c":"l"},{"s":21,"x":100,"y":1525,"c":"l"},
{"s":22,"x":1,"y":1600,"c":"a"},{"s":22,"x":100,"y":1600,"c":"a"},
{"s":23,"x":1,"y":1675,"c":"h"},{"s":23,"x":100,"y":1675,"c":"h"},
{"s":24,"x":1,"y":1750,"c":"o"},{"s":24,"x":100,"y":1750,"c":"o"},
{"s":25,"x":1,"y":1825,"c":"e"},{"s":25,"x":100,"y":1825,"c":"e"},
{"s":26,"x":1,"y":1900,"c":"j"},{"s":26,"x":100,"y":1900,"c":"j"},
{"s":27,"x":1,"y":1975,"c":"o"},{"s":27,"x":100,"y":1975,"c":"o"},
{"s":28,"x":1,"y":2050,"c":"h"},{"s":28,"x":100,"y":2050,"c":"h"},
{"s":29,"x":1,"y":2125,"c":"e"},{"s":29,"x":100,"y":2125,"c":"e"},
{"s":30,"x":1,"y":2200,"c":"o"},{"s":30,"x":100,"y":2200,"c":"o"},
{"s":31,"x":1,"y":2275,"c":"p"},{"s":31,"x":100,"y":2275,"c":"p"},
{"s":32,"x":1,"y":2350,"c":"d"},{"s":32,"x":100,"y":2350,"c":"d"},
{"s":33,"x":1,"y":2425,"c":"p"},{"s":33,"x":100,"y":2425,"c":"p"},
{"s":34,"x":1,"y":2480,"c":"d"},{"s":34,"x":100,"y":2480,"c":"d"},
{"s":50,"x":1,"y":900,"c":"e"},{"s":50,"x":20,"y":1000,"c":"e"},{"s":50,"x":40,"y":1200,"c":"e"},{"s":50,"x":50,"y":1280,"c":"e"},{"s":50,"x":60,"y":1220,"c":"e"},{"s":50,"x":80,"y":1000,"c":"e"},{"s":50,"x":100,"y":900,"c":"e"},
{"s":51,"x":1,"y":1000,"c":"b"},{"s":51,"x":20,"y":1100,"c":"b"},{"s":51,"x":40,"y":1300,"c":"b"},{"s":51,"x":50,"y":1380,"c":"b"},{"s":51,"x":60,"y":1320,"c":"b"},{"s":51,"x":80,"y":1100,"c":"b"},{"s":51,"x":100,"y":1000,"c":"b"},
{"s":52,"x":1,"y":1150,"c":"l"},{"s":52,"x":20,"y":1250,"c":"l"},{"s":52,"x":40,"y":1420,"c":"l"},{"s":52,"x":50,"y":1480,"c":"l"},{"s":52,"x":60,"y":1420,"c":"l"},{"s":52,"x":80,"y":1250,"c":"l"},{"s":52,"x":100,"y":1150,"c":"l"},
{"s":53,"x":1,"y":1300,"c":"c"},{"s":53,"x":20,"y":1380,"c":"c"},{"s":53,"x":40,"y":1520,"c":"c"},{"s":53,"x":50,"y":1560,"c":"c"},{"s":53,"x":60,"y":1520,"c":"c"},{"s":53,"x":80,"y":1380,"c":"c"},{"s":53,"x":100,"y":1300,"c":"c"},
{"s":60,"x":1,"y":15,"c":"g"},{"s":60,"x":12,"y":15,"c":"g"},
{"s":61,"x":86,"y":15,"c":"g"},{"s":61,"x":100,"y":15,"c":"g"},
{"s":62,"x":20,"y":2200,"c":"e"},{"s":62,"x":35,"y":2200,"c":"e"},
{"s":63,"x":60,"y":1900,"c":"o"},{"s":63,"x":75,"y":1900,"c":"o"},
{"s":64,"x":14,"y":700,"c":"e"},{"s":64,"x":24,"y":700,"c":"e"}
]
},
"config": {
 "view": {"stroke": "#999", "strokeWidth": 1.5},
 "axis": {"grid": false, "domain": false, "labelFont": "Liberation Sans", "labelFontSize": 20, "labelColor": "#333", "tickColor": "#666", "tickSize": -5, "titleFont": "Lato", "titleFontSize": 30, "titleFontWeight": "normal", "titleColor": "#555"},
 "axisX": {"labelPadding": 13},
 "axisY": {"labelPadding": 8},
 "title": {"anchor": "start", "frame": "group", "font": "Lato", "fontSize": 30, "fontWeight": "normal", "color": "#555", "offset": -6},
 "line": {"strokeWidth": 2.5}
}
}
